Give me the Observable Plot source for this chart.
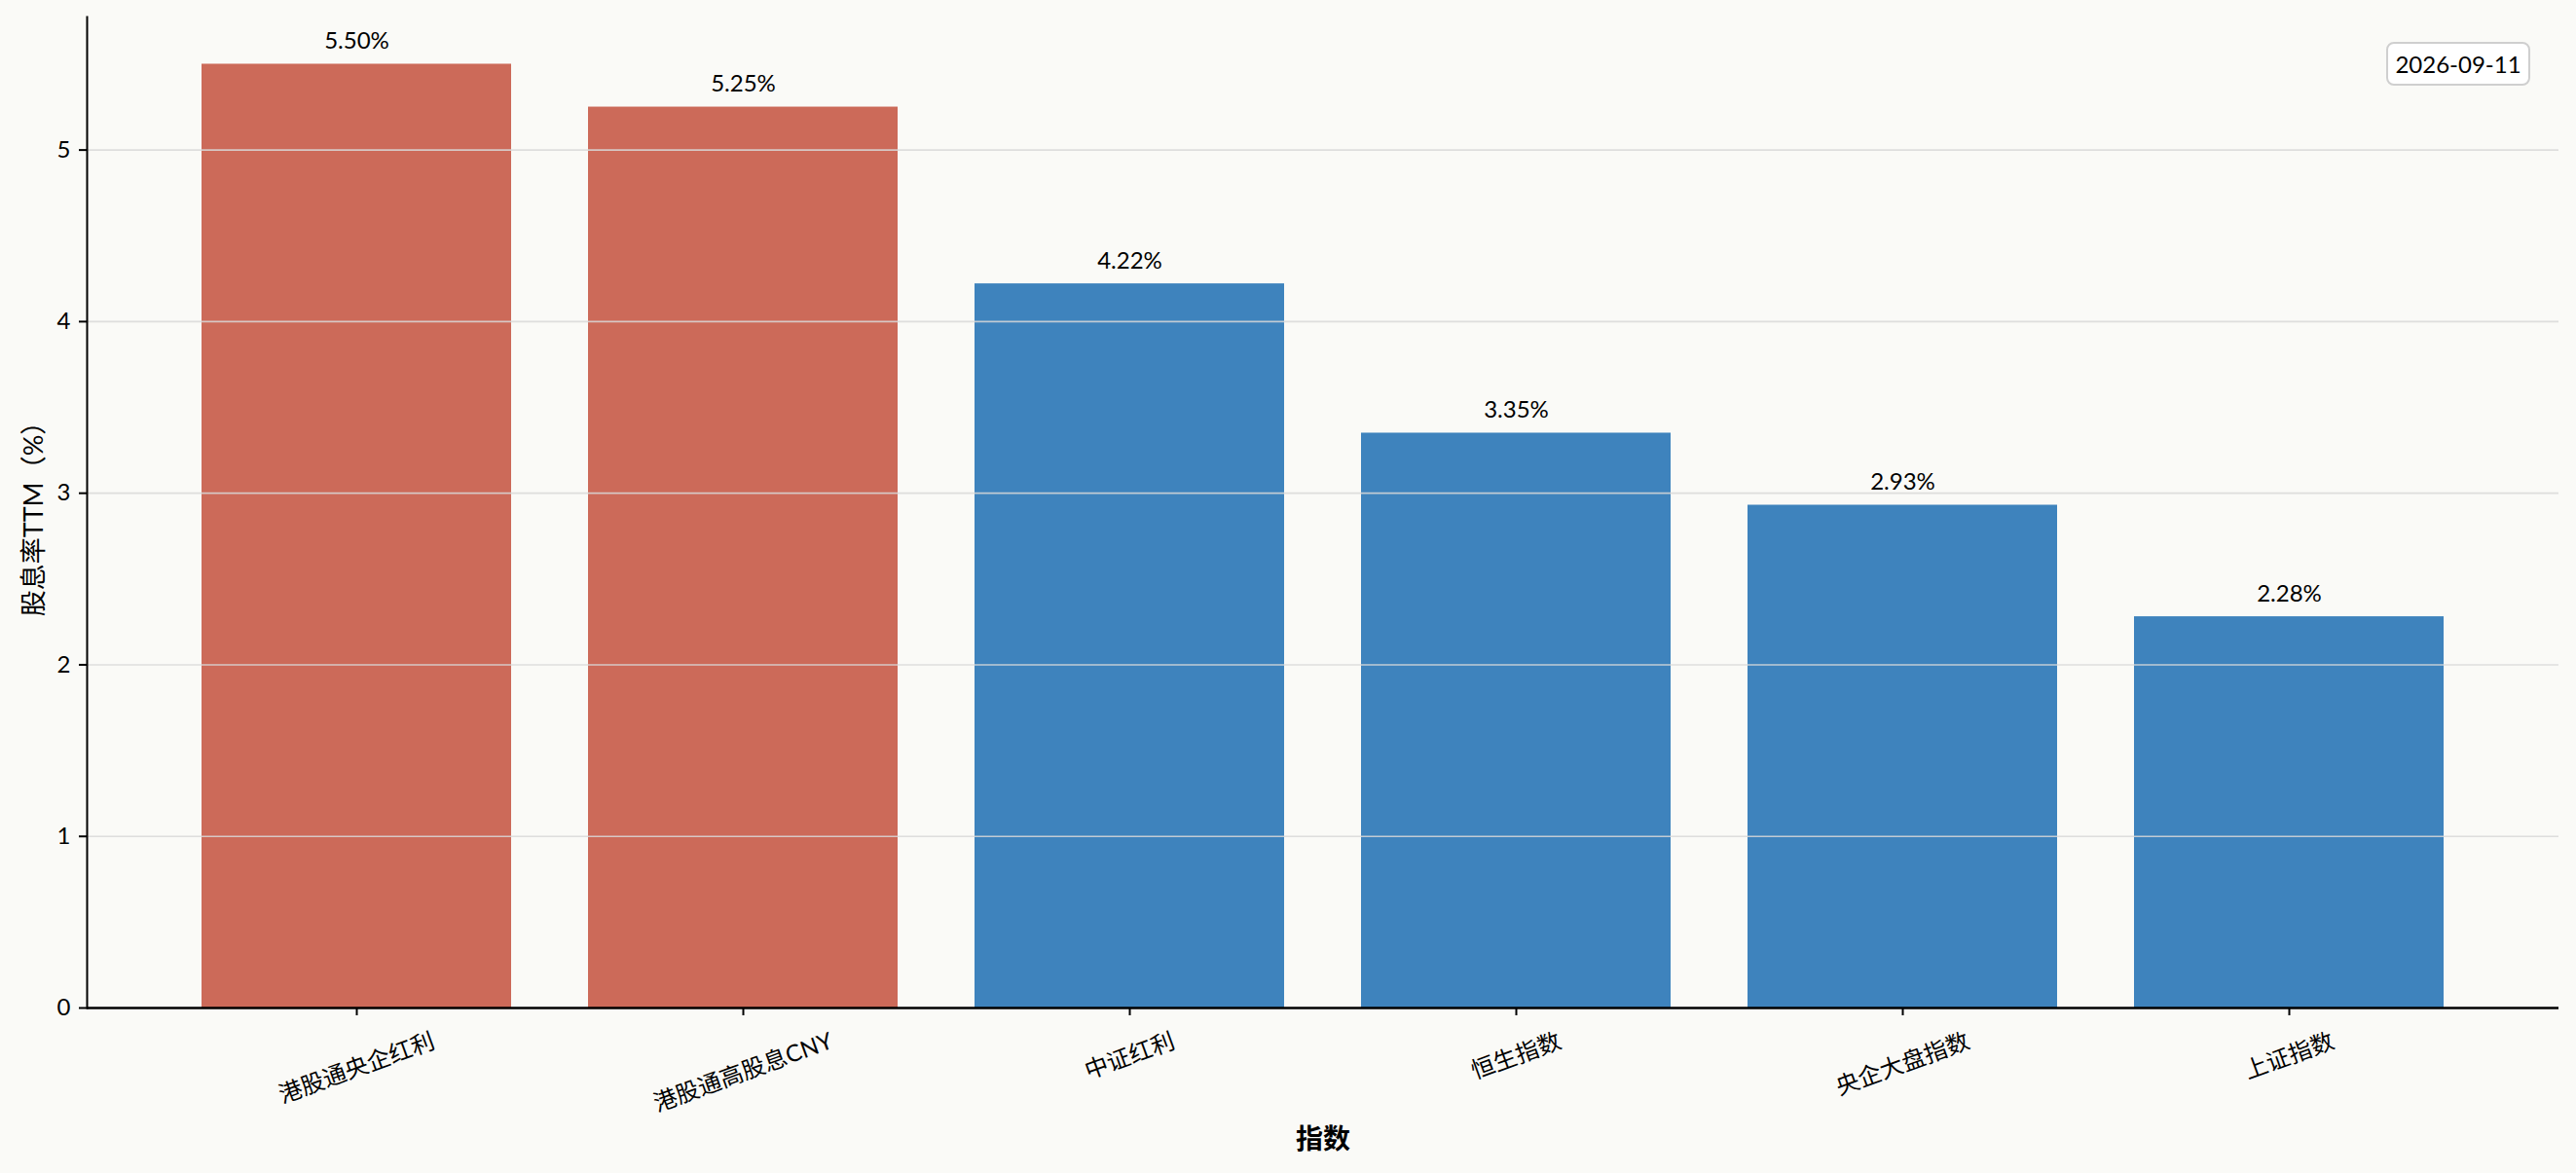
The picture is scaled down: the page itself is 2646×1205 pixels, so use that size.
<!DOCTYPE html>
<html>
<head>
<meta charset="utf-8">
<script src="https://cdn.jsdelivr.net/npm/d3@7"></script>
<script src="https://cdn.jsdelivr.net/npm/@observablehq/plot@0.6"></script>
<style>
  html, body { margin: 0; padding: 0; background: #fafaf7; }
  #wrap { position: relative; width: 2646px; height: 1205px; }
  #datebox {
    position: absolute; left: 2451px; top: 43px; width: 144px; height: 41px;
    border: 2px solid #cfcfcf; border-radius: 8px; background: #ffffff;
    font-family: Lato, "Noto Sans CJK SC", sans-serif; font-size: 24px; color: #000;
    display: flex; align-items: center; justify-content: center;
  }
</style>
</head>
<body>
<div id="wrap"><div id="datebox"></div></div>
<script>
const indices = ["港股通央企红利", "港股通高股息CNY", "中证红利", "恒生指数", "央企大盘指数", "上证指数"];
const yields = [5.50, 5.25, 4.22, 3.35, 2.93, 2.28];
const groups = ["港股通", "港股通", "其他", "其他", "其他", "其他"];
const yTicks = [0, 1, 2, 3, 4, 5];
const dateLabel = "2026-09-11";
const yLabel = "股息率TTM（%）";
const xLabel = "指数";

const data = indices.map((name, i) => ({name, value: yields[i], group: groups[i]}));

document.getElementById("datebox").textContent = dateLabel;

const font = 'Lato, "Noto Sans CJK SC", sans-serif';
const labelSize = 24;
const theta = 20 * Math.PI / 180;

// measure label widths so each rotated label's bounding box sits top-aligned under its tick
const ctx = document.createElement("canvas").getContext("2d");
ctx.font = `${labelSize}px ${font}`;
function labelOffset(s) {
  const L = ctx.measureText(s).width;
  const v = L * Math.sin(theta) + labelSize * Math.cos(theta);
  return 22 + v / 2;
}

const xLabelMarks = indices.map(name =>
  Plot.text([name], {x: d => d, frameAnchor: "bottom", dy: labelOffset(name), rotate: -20,
    textAnchor: "middle", lineAnchor: "middle", fontSize: labelSize, fill: "#000"})
);

const chart = Plot.plot({
  width: 2646,
  height: 1205,
  marginLeft: 89,
  marginRight: 18,
  marginTop: 17,
  marginBottom: 170,
  style: {background: "#fafaf7", fontFamily: font, fontSize: "24px", color: "#000"},
  x: {domain: indices, paddingInner: 0.2, paddingOuter: 0.29, align: 0.5},
  y: {domain: [0, 5.775]},
  color: {domain: ["港股通", "其他"], range: ["#cc6a59", "#3e83bd"]},
  marks: [
    Plot.barY(data, {x: "name", y: "value", fill: "group"}),
    Plot.ruleY(yTicks.filter(d => d > 0), {stroke: "#d8d8d8", strokeOpacity: 0.85, strokeWidth: 1.6}),
    Plot.axisY({ticks: yTicks, tickSize: 8, tickPadding: 9, tickFormat: d => String(d), label: null, fontSize: 24, strokeWidth: 2}),
    Plot.axisX({tickSize: 8, tickFormat: () => "", label: null, strokeWidth: 2}),
    Plot.frame({anchor: "left", stroke: "#000", strokeWidth: 2}),
    Plot.ruleY([0], {stroke: "#000", strokeWidth: 2.5}),
    Plot.text(data, {x: "name", y: "value", text: d => d.value.toFixed(2) + "%", dy: -16, lineAnchor: "bottom", fontSize: 24, fill: "#000"}),
    ...xLabelMarks,
    Plot.text([yLabel], {frameAnchor: "left", dx: -54, rotate: -90, textAnchor: "middle", lineAnchor: "middle", fontSize: 27, fill: "#000"}),
    Plot.text([xLabel], {frameAnchor: "bottom", dy: 136, textAnchor: "middle", lineAnchor: "middle", fontSize: 28, fontWeight: "bold", fill: "#000"})
  ]
});

document.getElementById("wrap").prepend(chart);
</script>
</body>
</html>
